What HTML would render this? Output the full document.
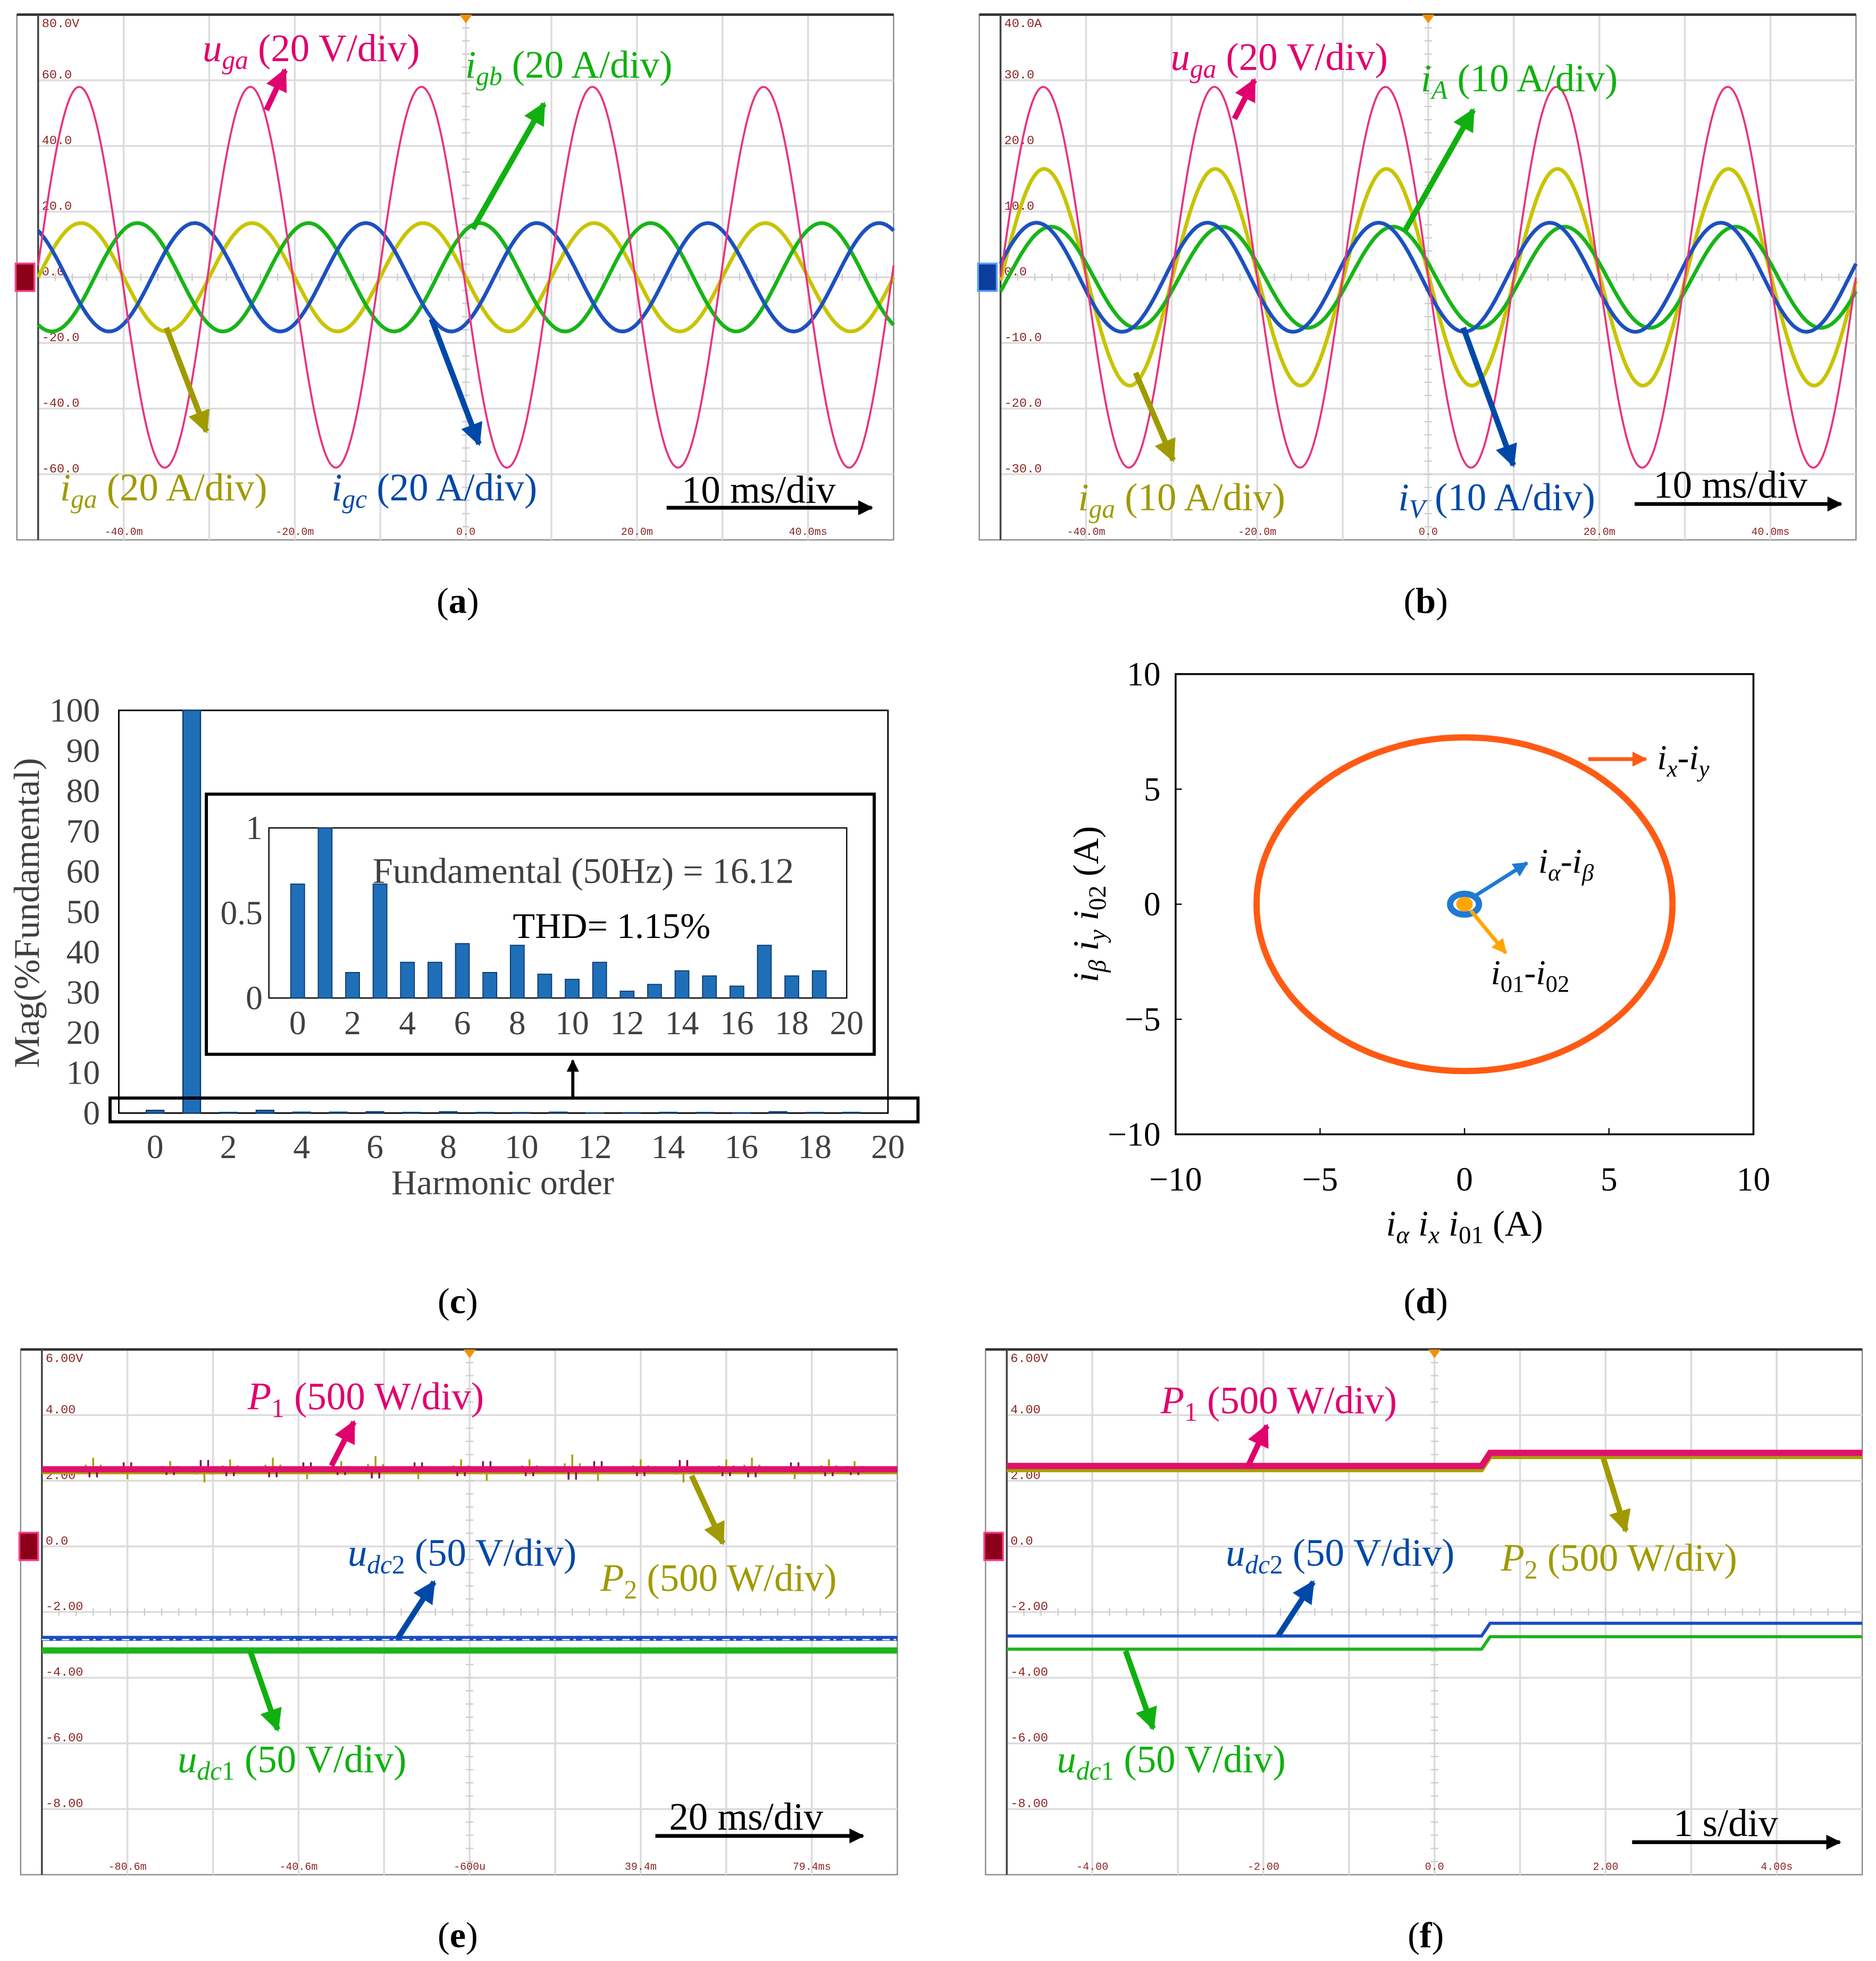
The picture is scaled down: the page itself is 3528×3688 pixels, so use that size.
<!DOCTYPE html>
<html><head><meta charset="utf-8"><title>Experimental results figure</title>
<style>
html,body{margin:0;padding:0;background:#fff;}
svg{display:block;}
.ser{font-family:"Liberation Serif",serif;}
.mono{font-family:"Liberation Mono",monospace;}
</style></head>
<body>
<svg id="fig" xmlns="http://www.w3.org/2000/svg" width="3528" height="3688" viewBox="0 0 1500 1568" preserveAspectRatio="none">
<defs>
<marker id="mk" viewBox="0 0 10 10" refX="9" refY="5" markerWidth="4" markerHeight="4" orient="auto"><path d="M0,0 L10,5 L0,10 z" fill="context-stroke"/></marker>
</defs>
<g id="layer-scope"></g>
<g id="layer-c"></g>
<g id="layer-d"></g>

<g class="ser" font-size="31">
<text x="162" y="49" fill="#e0006e"><tspan font-style="italic">u</tspan><tspan font-style="italic" font-size="21" dy="6">ga</tspan><tspan dy="-6"> (20 V/div)</tspan></text>
<text x="372" y="62" fill="#10b010"><tspan font-style="italic">i</tspan><tspan font-style="italic" font-size="21" dy="6">gb</tspan><tspan dy="-6"> (20 A/div)</tspan></text>
<text x="48" y="400" fill="#a09a00"><tspan font-style="italic">i</tspan><tspan font-style="italic" font-size="21" dy="6">ga</tspan><tspan dy="-6"> (20 A/div)</tspan></text>
<text x="265" y="400" fill="#0048a8"><tspan font-style="italic">i</tspan><tspan font-style="italic" font-size="21" dy="6">gc</tspan><tspan dy="-6"> (20 A/div)</tspan></text>
<text x="545" y="402" fill="#000">10 ms/div</text>
</g>
<g class="ser" font-size="31">
<text x="936" y="56" fill="#e0006e"><tspan font-style="italic">u</tspan><tspan font-style="italic" font-size="21" dy="6">ga</tspan><tspan dy="-6"> (20 V/div)</tspan></text>
<text x="1136" y="73" fill="#10b010"><tspan font-style="italic">i</tspan><tspan font-style="italic" font-size="21" dy="6">A</tspan><tspan dy="-6"> (10 A/div)</tspan></text>
<text x="862" y="408" fill="#a09a00"><tspan font-style="italic">i</tspan><tspan font-style="italic" font-size="21" dy="6">ga</tspan><tspan dy="-6"> (10 A/div)</tspan></text>
<text x="1118" y="408" fill="#0048a8"><tspan font-style="italic">i</tspan><tspan font-style="italic" font-size="21" dy="6">V</tspan><tspan dy="-6"> (10 A/div)</tspan></text>
<text x="1322" y="398" fill="#000">10 ms/div</text>
</g>
<g class="ser" font-size="31">
<text x="198" y="1127" fill="#e0006e"><tspan font-style="italic">P</tspan><tspan font-size="21" dy="6">1</tspan><tspan dy="-6"> (500 W/div)</tspan></text>
<text x="278" y="1252" fill="#0048a8"><tspan font-style="italic">u</tspan><tspan font-style="italic" font-size="21" dy="6">dc</tspan><tspan font-size="21">2</tspan><tspan dy="-6"> (50 V/div)</tspan></text>
<text x="480" y="1272" fill="#a09a00"><tspan font-style="italic">P</tspan><tspan font-size="21" dy="6">2</tspan><tspan dy="-6"> (500 W/div)</tspan></text>
<text x="142" y="1417" fill="#10b010"><tspan font-style="italic">u</tspan><tspan font-style="italic" font-size="21" dy="6">dc</tspan><tspan font-size="21">1</tspan><tspan dy="-6"> (50 V/div)</tspan></text>
<text x="535" y="1463" fill="#000">20 ms/div</text>
</g>
<g class="ser" font-size="31">
<text x="928" y="1130" fill="#e0006e"><tspan font-style="italic">P</tspan><tspan font-size="21" dy="6">1</tspan><tspan dy="-6"> (500 W/div)</tspan></text>
<text x="980" y="1252" fill="#0048a8"><tspan font-style="italic">u</tspan><tspan font-style="italic" font-size="21" dy="6">dc</tspan><tspan font-size="21">2</tspan><tspan dy="-6"> (50 V/div)</tspan></text>
<text x="1200" y="1256" fill="#a09a00"><tspan font-style="italic">P</tspan><tspan font-size="21" dy="6">2</tspan><tspan dy="-6"> (500 W/div)</tspan></text>
<text x="845" y="1417" fill="#10b010"><tspan font-style="italic">u</tspan><tspan font-style="italic" font-size="21" dy="6">dc</tspan><tspan font-size="21">1</tspan><tspan dy="-6"> (50 V/div)</tspan></text>
<text x="1338" y="1468" fill="#000">1 s/div</text>
</g>

<g stroke-width="4.5" fill="none">
<line x1="213" y1="88" x2="228" y2="56" stroke="#e0006e" marker-end="url(#mk)"/>
<line x1="378" y1="183" x2="435" y2="83" stroke="#10b010" marker-end="url(#mk)"/>
<line x1="133" y1="262" x2="165" y2="345" stroke="#a09a00" marker-end="url(#mk)"/>
<line x1="345" y1="255" x2="383" y2="355" stroke="#0048a8" marker-end="url(#mk)"/>
<line x1="533" y1="406" x2="697" y2="406" stroke="#000" stroke-width="3" marker-end="url(#mk)"/>
<line x1="987" y1="95" x2="1003" y2="64" stroke="#e0006e" marker-end="url(#mk)"/>
<line x1="1123" y1="185" x2="1178" y2="88" stroke="#10b010" marker-end="url(#mk)"/>
<line x1="908" y1="298" x2="938" y2="368" stroke="#a09a00" marker-end="url(#mk)"/>
<line x1="1170" y1="262" x2="1210" y2="372" stroke="#0048a8" marker-end="url(#mk)"/>
<line x1="1307" y1="403" x2="1472" y2="403" stroke="#000" stroke-width="3" marker-end="url(#mk)"/>
<line x1="265" y1="1172" x2="283" y2="1137" stroke="#e0006e" marker-end="url(#mk)"/>
<line x1="318" y1="1310" x2="347" y2="1265" stroke="#0048a8" marker-end="url(#mk)"/>
<line x1="553" y1="1180" x2="578" y2="1234" stroke="#a09a00" marker-end="url(#mk)"/>
<line x1="200" y1="1320" x2="222" y2="1383" stroke="#10b010" marker-end="url(#mk)"/>
<line x1="524" y1="1468" x2="690" y2="1468" stroke="#000" stroke-width="3" marker-end="url(#mk)"/>
<line x1="998" y1="1172" x2="1013" y2="1140" stroke="#e0006e" marker-end="url(#mk)"/>
<line x1="1022" y1="1308" x2="1050" y2="1265" stroke="#0048a8" marker-end="url(#mk)"/>
<line x1="1282" y1="1166" x2="1300" y2="1224" stroke="#a09a00" marker-end="url(#mk)"/>
<line x1="900" y1="1320" x2="922" y2="1382" stroke="#10b010" marker-end="url(#mk)"/>
<line x1="1305" y1="1473" x2="1471" y2="1473" stroke="#000" stroke-width="3" marker-end="url(#mk)"/>
</g>

<g class="ser" font-size="29" text-anchor="middle">
<text x="366" y="490">(<tspan font-weight="bold">a</tspan>)</text>
<text x="1140" y="490">(<tspan font-weight="bold">b</tspan>)</text>
<text x="366" y="1050">(<tspan font-weight="bold">c</tspan>)</text>
<text x="1140" y="1050">(<tspan font-weight="bold">d</tspan>)</text>
<text x="366" y="1557">(<tspan font-weight="bold">e</tspan>)</text>
<text x="1140" y="1557">(<tspan font-weight="bold">f</tspan>)</text>
</g>
</svg>

<script>
const NS = "http://www.w3.org/2000/svg";
// ---------- DATA ----------
const aNames = ["uga", "iga", "igb", "igc"];
const aAmp = [58, 16.5, 16.5, 16.5];
const aPeakMs = [-5.2, -5.0, 1.6, 8.3];
const aYTicks = ["80.0V", "60.0", "40.0", "20.0", "0.0", "-20.0", "-40.0", "-60.0"];
const aXTicks = ["-40.0m", "-20.0m", "0.0", "20.0m", "40.0ms"];
const bNames = ["uga", "iga", "iA", "iV"];
const bAmp = [29, 16.5, 7.7, 8.3];
const bPeakMs = [-5.0, -4.9, -4.1, -5.8];
const bYTicks = ["40.0A", "30.0", "20.0", "10.0", "0.0", "-10.0", "-20.0", "-30.0"];
const bXTicks = ["-40.0m", "-20.0m", "0.0", "20.0m", "40.0ms"];
const eNames = ["P1", "udc2", "udc1"];
const eLevels = [2.35, -2.8, -3.17];
const eSpikeMs = [-44, -40, -35, -31, -28, -23, -19, -15, -11, -6, -1, 2, 7, 12, 15, 20, 25, 30, 33, 38, 42, 45];
const eSpikeMag = [0.35, -0.3, 0.25, -0.4, 0.3, 0.35, -0.3, 0.25, 0.4, -0.3, 0.3, -0.35, 0.3, 0.45, -0.35, 0.3, -0.4, 0.3, 0.35, -0.3, 0.3, 0.25];
const eYTicks = ["6.00V", "4.00", "2.00", "0.0", "-2.00", "-4.00", "-6.00", "-8.00"];
const eXTicks = ["-80.6m", "-40.6m", "-600u", "39.4m", "79.4ms"];
const fNames = ["P1", "udc2", "udc1"];
const fBefore = [2.45, -2.73, -3.13];
const fAfter = [2.85, -2.34, -2.75];
const fStepStart = 0.55, fStepEnd = 0.65;
const fXTicks = ["-4.00", "-2.00", "0.0", "2.00", "4.00s"];
const harmOrder = [0,1,2,3,4,5,6,7,8,9,10,11,12,13,14,15,16,17,18,19];
const harmMag = [0.67,100,0.15,0.67,0.21,0.21,0.32,0.15,0.31,0.14,0.11,0.21,0.04,0.08,0.16,0.13,0.07,0.31,0.13,0.16];
const cYTicks = [0,10,20,30,40,50,60,70,80,90,100];
const cXTicks = [0,2,4,6,8,10,12,14,16,18,20];
const insetYTicks = [0, 0.5, 1];
const dCurves = ["ix-iy", "ia-ib", "i01-i02"];
const dRadX = [7.2, 0.5, 0.15];
const dRadY = [7.25, 0.45, 0.15];
const dTicks = [-10, -5, 0, 5, 10];

function el(tag, parent) { const e = document.createElementNS(NS, tag); parent.appendChild(e); return e; }
function attrs(e, o) { for (const k in o) e.setAttribute(k, o[k]); return e; }

const scope = document.getElementById("layer-scope");

function scopeFrame(p, left, top, yTicks, xTicks, markerColor, zeroDiv) {
  const g = el("g", scope);
  
  
  const W = 684, H = 420, right = left + W, bottom = top + H;
  attrs(el("rect", g), {x: left - 17, y: top, width: W + 17, height: H, fill: "#fff", stroke: "#888", "stroke-width": 1});
  for (let i = 1; i < 10; i++) {
    const gl = attrs(el("line", g), {x1: left + i * W / 10, y1: top, x2: left + i * W / 10, y2: bottom, stroke: "#dcdcdc", "stroke-width": 1.5});
    
    
  }
  for (let i = 1; i < 8; i++) {
    const gl = attrs(el("line", g), {x1: left, y1: top + i * H / 8, x2: right, y2: top + i * H / 8, stroke: "#dcdcdc", "stroke-width": 1.5});
    
    
  }
  for (let i = 1; i < 50; i++) {
    const x = left + i * W / 50;
    attrs(el("line", g), {x1: x, y1: top + H / 2 - 3, x2: x, y2: top + H / 2 + 3, stroke: "#ccc", "stroke-width": 1});
  }
  for (let i = 1; i < 40; i++) {
    const y = top + i * H / 40;
    attrs(el("line", g), {x1: left + W / 2 - 3, y1: y, x2: left + W / 2 + 3, y2: y, stroke: "#ccc", "stroke-width": 1});
  }
  attrs(el("line", g), {x1: left - 17, y1: top, x2: right, y2: top, stroke: "#333", "stroke-width": 2});
  attrs(el("line", g), {x1: left, y1: top, x2: left, y2: bottom, stroke: "#444", "stroke-width": 1.5});
  yTicks.forEach((t, i) => {
    const tx = attrs(el("text", g), {x: left + 3, y: i === 0 ? top + 10 : top + i * H / 8 - 1.5, "font-size": 10, fill: "#8b2323", class: "mono"});
    tx.textContent = t;
    
    
  });
  xTicks.forEach((t, i) => {
    const tx = attrs(el("text", g), {x: left + W * (1 + 2 * i) / 10, y: bottom - 4, "font-size": 8.5, fill: "#8b2323", "text-anchor": "middle", class: "mono"});
    tx.textContent = t;
    
    
  });
  const trig = attrs(el("path", g), {d: `M${left + W / 2 - 5},${top} L${left + W / 2 + 5},${top} L${left + W / 2},${top + 7} z`, fill: "#f0900a"});
  
  
  const zeroY = top + zeroDiv * H / 8;
  const cm = attrs(el("rect", g), {x: left - 18, y: zeroY - 11, width: 15, height: 22, fill: markerColor, stroke: markerColor === "#8b0018" ? "#ff3c8c" : "#5aa0ff", "stroke-width": 1.5});
  
  
  return {left, top, W, H, zeroY};
}

function sinePanel(p, fr, names, amp, peak, colors, widths, perDiv) {
  const pxPerMs = fr.W / 100, pxPerUnit = (fr.H / 8) / perDiv, cx = fr.left + fr.W / 2;
  const order = [1, 2, 3, 0];
  order.forEach(k => {
    const n = names[k];
    const pts = [];
    for (let x = fr.left; x <= fr.left + fr.W; x += 1) {
      const t = (x - cx) / pxPerMs;
      const v = amp[k] * Math.cos(2 * Math.PI * (t - peak[k]) / 20);
      pts.push(x.toFixed(1) + "," + (fr.zeroY - v * pxPerUnit).toFixed(1));
    }
    const pl = attrs(el("polyline", scope), {points: pts.join(" "), fill: "none", stroke: colors[k], "stroke-width": widths[k], "stroke-linejoin": "round"});
    
    
  });
}

const fa = scopeFrame("a", 30.5, 11.7, aYTicks, aXTicks, "#8b0018", 4);
sinePanel("a", fa, aNames, aAmp, aPeakMs, ["#e8337f", "#c8c400", "#18b418", "#1d50c0"], [1.6, 3, 3, 3], 20);
const fb = scopeFrame("b", 800, 11.7, bYTicks, bXTicks, "#0c3c9c", 4);
sinePanel("b", fb, bNames, bAmp, bPeakMs, ["#e8337f", "#c8c400", "#18b418", "#1d50c0"], [1.6, 3, 3, 3], 10);

const fe = scopeFrame("e", 33.5, 1079, eYTicks, eXTicks, "#8b0018", 3);
(function () {
  const pxPerUnit = (fe.H / 8) / 2, pxPerMs = fe.W / 200, cx = fe.left + fe.W / 2;
  const y = v => fe.zeroY - v * pxPerUnit;
  const spikes = el("g", scope);
  
  
  attrs(el("line", spikes), {x1: fe.left, y1: y(eLevels[0]) + 2, x2: fe.left + fe.W, y2: y(eLevels[0]) + 2, stroke: "#a8a000", "stroke-width": 4});
  eSpikeMs.forEach((t, i) => {
    for (let s = -2; s <= 2; s++) {
      const x = cx + t * 2 * pxPerMs + s * 3;
      attrs(el("line", spikes), {x1: x, y1: y(eLevels[0]), x2: x, y2: y(eLevels[0] + eSpikeMag[i] * (1 - Math.abs(s) * 0.3) * (s % 2 ? -1 : 1)), stroke: s % 2 ? "#8a1050" : "#a8a000", "stroke-width": 1.5});
    }
  });
  const colors = ["#e0106e", "#1a4ec0", "#1cb41c"], widths = [5, 4, 5];
  eNames.forEach((n, k) => {
    const ln = attrs(el("line", scope), {x1: fe.left, y1: y(eLevels[k]), x2: fe.left + fe.W, y2: y(eLevels[k]), stroke: colors[k], "stroke-width": widths[k]});
    
    
  });
  attrs(el("line", scope), {x1: fe.left, y1: y(eLevels[1]) + 1, x2: fe.left + fe.W, y2: y(eLevels[1]) + 1, stroke: "#fff", "stroke-width": 1, "stroke-dasharray": "6 3 2 5"});
})();

const ff = scopeFrame("f", 805, 1079, eYTicks, fXTicks, "#8b0018", 3);
(function () {
  const pxPerUnit = (ff.H / 8) / 2, pxPerS = ff.W / 10, cx = ff.left + ff.W / 2;
  const y = v => ff.zeroY - v * pxPerUnit;
  const x = t => cx + t * pxPerS;
  const colors = ["#e0106e", "#1a4ec0", "#1cb41c"], widths = [5, 2.5, 2.5];
  const olive = attrs(el("polyline", scope), {points: `${ff.left},${y(fBefore[0]) + 3} ${x(fStepStart)},${y(fBefore[0]) + 3} ${x(fStepEnd)},${y(fAfter[0]) + 3} ${ff.left + ff.W},${y(fAfter[0]) + 3}`, fill: "none", stroke: "#a8a000", "stroke-width": 4});
  
  
  fNames.forEach((n, k) => {
    const pl = attrs(el("polyline", scope), {points: `${ff.left},${y(fBefore[k])} ${x(fStepStart)},${y(fBefore[k])} ${x(fStepEnd)},${y(fAfter[k])} ${ff.left + ff.W},${y(fAfter[k])}`, fill: "none", stroke: colors[k], "stroke-width": widths[k]});
    
    
  });
})();

(function () {
  const L = document.getElementById("layer-c");
  const px0 = 95, px1 = 710, py0 = 890, py1 = 568;
  const xs = v => 124 + v * 29.3;
  const ys = v => py0 - v / 100 * (py0 - py1);
  attrs(el("rect", L), {x: px0, y: py1, width: px1 - px0, height: py0 - py1, fill: "none", stroke: "#000", "stroke-width": 1.2});
  cYTicks.forEach(t => {
    const tx = attrs(el("text", L), {x: 80, y: ys(t) + 9, "font-size": 27, "text-anchor": "end", fill: "#404040", class: "ser"});
    tx.textContent = t;
    
    
  });
  cXTicks.forEach(t => {
    const tx = attrs(el("text", L), {x: xs(t), y: 926, "font-size": 27, "text-anchor": "middle", fill: "#404040", class: "ser"});
    tx.textContent = t;
    
    
  });
  harmOrder.forEach((h, i) => {
    const b = attrs(el("rect", L), {x: xs(h) - 7, y: ys(harmMag[i]), width: 14, height: py0 - ys(harmMag[i]), fill: "#1f6fb8", stroke: "#0c3a70", "stroke-width": 1});
    
    
  });
  const yt = attrs(el("text", L), {x: 0, y: 0, "font-size": 29, "text-anchor": "middle", fill: "#404040", class: "ser", transform: "translate(31,730) rotate(-90)"});
  yt.textContent = "Mag(%Fundamental)";
  
  
  const xt = attrs(el("text", L), {x: 402, y: 955, "font-size": 28, "text-anchor": "middle", fill: "#404040", class: "ser"});
  xt.textContent = "Harmonic order";
  
  
  attrs(el("rect", L), {x: 88, y: 878, width: 646, height: 19, fill: "none", stroke: "#000", "stroke-width": 2.5});
  attrs(el("line", L), {x1: 458, y1: 878, x2: 458, y2: 848, stroke: "#000", "stroke-width": 2.5, "marker-end": "url(#mk)"});
  const ins = el("g", L);
  
  
  attrs(el("rect", ins), {x: 165, y: 635, width: 534, height: 208, fill: "#fff", stroke: "#000", "stroke-width": 2.5});
  const ix0 = 215, ix1 = 677, iy0 = 798, iy1 = 662;
  const ixs = v => 238 + v * 21.95;
  const iys = v => iy0 - Math.min(v, 1) * (iy0 - iy1);
  attrs(el("rect", ins), {x: ix0, y: iy1, width: ix1 - ix0, height: iy0 - iy1, fill: "none", stroke: "#000", "stroke-width": 1});
  insetYTicks.forEach(t => {
    const tx = attrs(el("text", ins), {x: 210, y: iys(t) + 9, "font-size": 27, "text-anchor": "end", fill: "#404040", class: "ser"});
    tx.textContent = t;
    
    
  });
  cXTicks.forEach(t => {
    const tx = attrs(el("text", ins), {x: ixs(t), y: 827, "font-size": 27, "text-anchor": "middle", fill: "#404040", class: "ser"});
    tx.textContent = t;
    
    
  });
  harmOrder.forEach((h, i) => {
    const b = attrs(el("rect", ins), {x: ixs(h) - 5.5, y: iys(harmMag[i]), width: 11, height: iy0 - iys(harmMag[i]), fill: "#1f6fb8", stroke: "#0c3a70", "stroke-width": 0.8});
    
    
  });
  const f1 = attrs(el("text", ins), {x: 298, y: 706, "font-size": 29, fill: "#404040", class: "ser"});
  f1.textContent = "Fundamental (50Hz) = 16.12";
  
  
  const f2 = attrs(el("text", ins), {x: 410, y: 750, "font-size": 29, fill: "#000", class: "ser"});
  f2.textContent = "THD= 1.15%";
  
  
})();

(function () {
  const L = document.getElementById("layer-d");
  const x0 = 940, x1 = 1402, y0 = 907, y1 = 539;
  const xs = v => x0 + (v + 10) / 20 * (x1 - x0);
  const ys = v => y0 - (v + 10) / 20 * (y0 - y1);
  attrs(el("rect", L), {x: x0, y: y1, width: x1 - x0, height: y0 - y1, fill: "none", stroke: "#000", "stroke-width": 1.5});
  dTicks.forEach(t => {
    attrs(el("line", L), {x1: xs(t), y1: y0, x2: xs(t), y2: y0 - 5, stroke: "#000", "stroke-width": 1});
    attrs(el("line", L), {x1: x0, y1: ys(t), x2: x0 + 5, y2: ys(t), stroke: "#000", "stroke-width": 1});
    const tx = attrs(el("text", L), {x: xs(t), y: 952, "font-size": 27, "text-anchor": "middle", fill: "#000", class: "ser"});
    tx.textContent = t < 0 ? "\u2212" + (-t) : t;
    
    
    const ty = attrs(el("text", L), {x: 928, y: ys(t) + 9, "font-size": 27, "text-anchor": "end", fill: "#000", class: "ser"});
    ty.textContent = t < 0 ? "\u2212" + (-t) : t;
    
    
  });
  const colors = ["#ff5a14", "#1f7ad4", "#ffa500"], widths = [5, 5, 6];
  dCurves.forEach((n, k) => {
    const pts = [];
    for (let a = 0; a <= 360; a += 3) {
      const r = a * Math.PI / 180;
      pts.push(xs(dRadX[k] * Math.cos(r)).toFixed(1) + "," + ys(dRadY[k] * Math.sin(r)).toFixed(1));
    }
    const pl = attrs(el("polyline", L), {points: pts.join(" "), fill: k === 2 ? colors[k] : "none", stroke: colors[k], "stroke-width": widths[k]});
    
    
  });
  attrs(el("line", L), {x1: 1270, y1: 607, x2: 1316, y2: 607, stroke: "#ff5a14", "stroke-width": 3, "marker-end": "url(#mk)"});
  attrs(el("line", L), {x1: 1180, y1: 716, x2: 1221, y2: 690, stroke: "#1f7ad4", "stroke-width": 3, "marker-end": "url(#mk)"});
  attrs(el("line", L), {x1: 1176, y1: 728, x2: 1204, y2: 762, stroke: "#ffa500", "stroke-width": 3, "marker-end": "url(#mk)"});
})();

(function(){
  const svg = document.getElementById("fig");
  const g = document.createElementNS(NS,"g");
  
  
  g.innerHTML =
   '<text class="ser" x="1325" y="615" font-size="28"><tspan font-style="italic">i</tspan><tspan font-style="italic" font-size="19" dy="6">x</tspan><tspan dy="-6">-</tspan><tspan font-style="italic">i</tspan><tspan font-style="italic" font-size="19" dy="6">y</tspan></text>' +
   '<text class="ser" x="1230" y="698" font-size="28"><tspan font-style="italic">i</tspan><tspan font-style="italic" font-size="19" dy="6">α</tspan><tspan dy="-6">-</tspan><tspan font-style="italic">i</tspan><tspan font-style="italic" font-size="19" dy="6">β</tspan></text>' +
   '<text class="ser" x="1192" y="787" font-size="28"><tspan font-style="italic">i</tspan><tspan font-size="19" dy="6">01</tspan><tspan dy="-6">-</tspan><tspan font-style="italic">i</tspan><tspan font-size="19" dy="6">02</tspan></text>' +
   '<text class="ser" x="1171" y="988" font-size="29" text-anchor="middle"><tspan font-style="italic">i</tspan><tspan font-style="italic" font-size="20" dy="6">α</tspan><tspan dy="-6" font-style="italic"> i</tspan><tspan font-style="italic" font-size="20" dy="6">x</tspan><tspan dy="-6" font-style="italic"> i</tspan><tspan font-size="20" dy="6">01</tspan><tspan dy="-6"> (A)</tspan></text>' +
   '<text class="ser" x="0" y="0" font-size="29" text-anchor="middle" transform="translate(878,723) rotate(-90)"><tspan font-style="italic">i</tspan><tspan font-style="italic" font-size="20" dy="6">β</tspan><tspan dy="-6" font-style="italic"> i</tspan><tspan font-style="italic" font-size="20" dy="6">y</tspan><tspan dy="-6" font-style="italic"> i</tspan><tspan font-size="20" dy="6">02</tspan><tspan dy="-6"> (A)</tspan></text>';
  svg.appendChild(g);
})();
</script>
</body></html>
